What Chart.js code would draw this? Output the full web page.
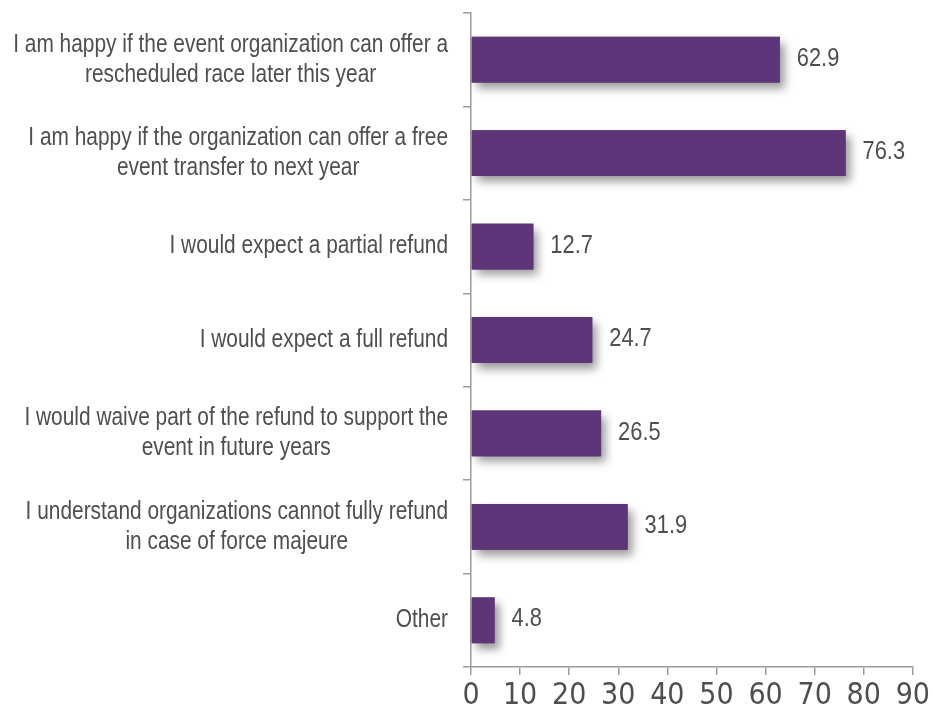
<!DOCTYPE html>
<html>
<head>
<meta charset="utf-8">
<title>Refund preferences</title>
<script src="https://cdn.jsdelivr.net/npm/chart.js@4.4.1/dist/chart.umd.min.js"></script>
<style>
  html, body { margin: 0; padding: 0; background: #ffffff; }
  #wrap { width: 933px; height: 710px; }
</style>
</head>
<body>
<div id="wrap"><canvas id="chart" width="933" height="710"></canvas></div>
<script>
// Survey answers (share of respondents, %)
const categories = [
  ["I am happy if the event organization can offer a", "rescheduled race later this year"],
  ["I am happy if the organization can offer a free", "event transfer to next year"],
  ["I would expect a partial refund"],
  ["I would expect a full refund"],
  ["I would waive part of the refund to support the", "event in future years"],
  ["I understand organizations cannot fully refund", "in case of force majeure"],
  ["Other"]
];
const shares = [62.9, 76.3, 12.7, 24.7, 26.5, 31.9, 4.8];
const xTicks = [0, 10, 20, 30, 40, 50, 60, 70, 80, 90];

const SANS = "'Liberation Sans', Arial, sans-serif";
const CONDENSED = "'DejaVu Sans Condensed', 'Liberation Sans', sans-serif";
const BAR = '#5f3579';
const AXIS = '#9c9c9c';
const TEXT = '#4f4f4f';

// Draw text squeezed horizontally to get a narrow face
function narrowText(ctx, str, x, y, squeeze) {
  ctx.save();
  ctx.translate(x, y);
  ctx.scale(squeeze, 1);
  ctx.fillText(str, 0, 0);
  ctx.restore();
}

// Soft drop shadow behind each bar
const barShadow = {
  id: 'barShadow',
  beforeDatasetsDraw(chart) {
    const ctx = chart.ctx;
    const meta = chart.getDatasetMeta(0);
    ctx.save();
    ctx.shadowColor = 'rgba(0,0,0,0.40)';
    ctx.shadowBlur = 9;
    ctx.shadowOffsetX = 5;
    ctx.shadowOffsetY = 6;
    ctx.fillStyle = BAR;
    meta.data.forEach(bar => {
      const h = bar.height;
      ctx.fillRect(bar.base, bar.y - h / 2, bar.x - bar.base, h);
    });
    ctx.restore();
  }
};

// Value labels to the right of each bar
const valueLabels = {
  id: 'valueLabels',
  afterDatasetsDraw(chart) {
    const ctx = chart.ctx;
    const meta = chart.getDatasetMeta(0);
    ctx.save();
    ctx.font = '26px ' + SANS;
    ctx.fillStyle = TEXT;
    ctx.textAlign = 'left';
    ctx.textBaseline = 'middle';
    meta.data.forEach((bar, i) => {
      narrowText(ctx, shares[i].toFixed(1), bar.x + 17, bar.y - 1, 0.84);
    });
    ctx.restore();
  }
};

// Category labels: block right-aligned to the axis, lines centred within the block
const categoryLabels = {
  id: 'categoryLabels',
  afterDraw(chart) {
    const ctx = chart.ctx;
    const y = chart.scales.y;
    const right = y.right - 23;
    const lineH = 30;
    const squeeze = 0.835;
    ctx.save();
    ctx.font = '25px ' + SANS;
    ctx.fillStyle = TEXT;
    ctx.textAlign = 'center';
    ctx.textBaseline = 'middle';
    categories.forEach((lines, i) => {
      const cy = y.getPixelForValue(i);
      const w = Math.max(...lines.map(l => ctx.measureText(l).width)) * squeeze;
      const cx = right - w / 2;
      const top = cy - (lines.length - 1) * lineH / 2;
      lines.forEach((l, k) => narrowText(ctx, l, cx, top + k * lineH, squeeze));
    });
    ctx.restore();
  }
};

new Chart(document.getElementById('chart'), {
  type: 'bar',
  data: {
    labels: categories,
    datasets: [{
      data: shares,
      backgroundColor: BAR,
      borderWidth: 0,
      categoryPercentage: 1,
      barPercentage: 0.49
    }]
  },
  options: {
    indexAxis: 'y',
    responsive: false,
    animation: false,
    devicePixelRatio: 1,
    layout: { padding: { top: 13, right: 20, left: 0, bottom: 0 } },
    plugins: {
      legend: { display: false },
      tooltip: { enabled: false }
    },
    scales: {
      x: {
        min: 0,
        max: 90,
        afterBuildTicks(scale) { scale.ticks = xTicks.map(v => ({ value: v })); },
        afterFit(scale) { scale.height = 43; },
        grid: { drawOnChartArea: false, drawTicks: true, tickLength: 8, color: AXIS, lineWidth: 1.5 },
        border: { color: AXIS, width: 1.5 },
        ticks: { color: TEXT, font: { family: CONDENSED, size: 30 }, padding: 3, maxRotation: 0 }
      },
      y: {
        afterFit(scale) { scale.width = 471; },
        grid: { drawOnChartArea: false, drawTicks: true, tickLength: 8, color: AXIS, lineWidth: 1.5, offset: true },
        border: { color: AXIS, width: 1.5 },
        ticks: { display: false }
      }
    }
  },
  plugins: [barShadow, valueLabels, categoryLabels]
});
</script>
</body>
</html>
